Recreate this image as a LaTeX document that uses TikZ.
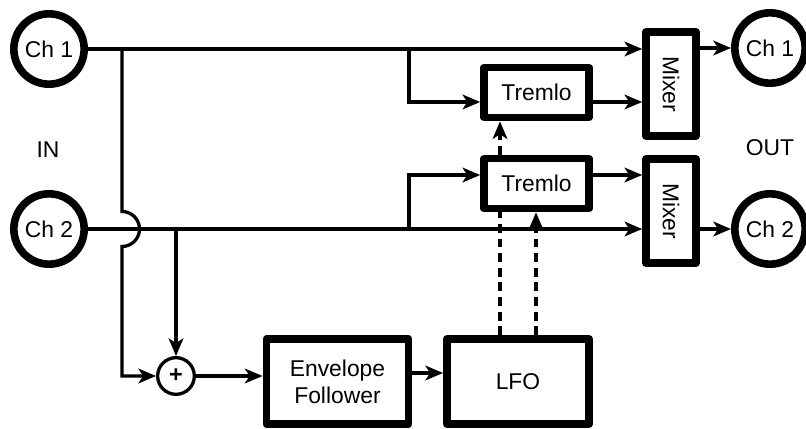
\documentclass[tikz,border=0pt]{standalone}
\usepackage{fontspec}
\setmainfont{Liberation Sans}
\usetikzlibrary{arrows.meta, positioning, calc}

\begin{document}
\begin{tikzpicture}[
    x=0.03cm, y=-0.03cm,
    every node/.style={font=\fontsize{19.5}{23}\selectfont},
    box/.style={rectangle, draw, line width=6.5pt, line join=round, fill=white, inner sep=0pt, minimum width=3.15cm, minimum height=1.5cm},
    mixer/.style={box, minimum width=1.5cm, minimum height=3.12cm},
    bigbox/.style={box, minimum width=4.27cm, minimum height=2.55cm, align=center},
    port/.style={circle, draw, line width=6.5pt, fill=white, inner sep=0pt, minimum size=2.11cm},
    sum/.style={circle, draw, line width=2.8pt, fill=white, inner sep=0pt, minimum size=1.1cm, font=\fontsize{20}{20}\selectfont\bfseries},
    arrow/.style={line width=2.8pt, -{Stealth[length=15pt, width=12.5pt, inset=4pt]}},
    wire/.style={line width=2.8pt},
    dasharrow/.style={arrow, dash pattern=on 7.5pt off 5pt}
]
\useasboundingbox (0,0) rectangle (806,429);

% Inputs and outputs
\node[port] (in1) at (49,49) {Ch 1};
\node[port] (in2) at (49,229) {Ch 2};
\node[port] (out1) at (770,48) {Ch 1};
\node[port] (out2) at (770,229) {Ch 2};
\node (inlabel) at (48,150) {IN};
\node (outlabel) at (770,148) {OUT};

% Effect chain
\node[box] (tremlo1) at (536.5,92.5) {Tremlo};
\node[box] (tremlo2) at (536.5,183.5) {Tremlo};
\node[mixer] (mixer1) at (671,84) {\rotatebox{-90}{Mixer}};
\node[mixer] (mixer2) at (671,211) {\rotatebox{-90}{Mixer}};

% Control path
\node[sum] (plus) at (176,376) {+};
\node[bigbox] (env) at (337.5,381.5) {Envelope\\Follower};
\node[bigbox] (lfo) at (518,381.5) {LFO};

% Taps and rows
\coordinate (tap) at (409,0);
\coordinate (hop) at (122,0);
\coordinate (side) at (176,0);
\coordinate (row1) at (0,102);
\coordinate (row2) at (0,175);
\coordinate (row3) at (0,373);
\coordinate (rate) at (500,0);
\coordinate (depth) at (536,0);

% Channel 1
\draw[arrow] (in1) -- (in1 -| mixer1.west);
\draw[arrow] (in1 -| tap) |- (tremlo1.west |- row1);
\draw[arrow] (tremlo1.east |- row1) -- (mixer1.west |- row1);
\draw[arrow] (mixer1.east |- out1) -- (out1);

% Channel 2
\draw[arrow] (in2) -- (in2 -| mixer2.west);
\draw[arrow] (in2 -| tap) |- (tremlo2.west |- row2);
\draw[arrow] (tremlo2.east |- row2) -- (mixer2.west |- row2);
\draw[arrow] (mixer2.east |- out2) -- (out2);

% Sum to envelope
\draw[arrow] (in1 -| hop) -- ($(in2 -| hop)+(0,-17.5)$)
    arc[start angle=-90, end angle=90, radius=17.5] |- (plus);
\draw[arrow] (in2 -| side) -- (plus);
\draw[arrow] (plus) -- (plus -| env.west);
\draw[arrow] (env.east |- row3) -- (lfo.west |- row3);

% Modulation
\draw[wire, dash pattern=on 7.5pt off 5pt] (lfo.north -| rate) -- (tremlo2.south -| rate);
\draw[dasharrow] (tremlo2.north -| rate) -- (tremlo1.south -| rate);
\draw[dasharrow] (lfo.north -| depth) -- (tremlo2.south -| depth);

\end{tikzpicture}
\end{document}
